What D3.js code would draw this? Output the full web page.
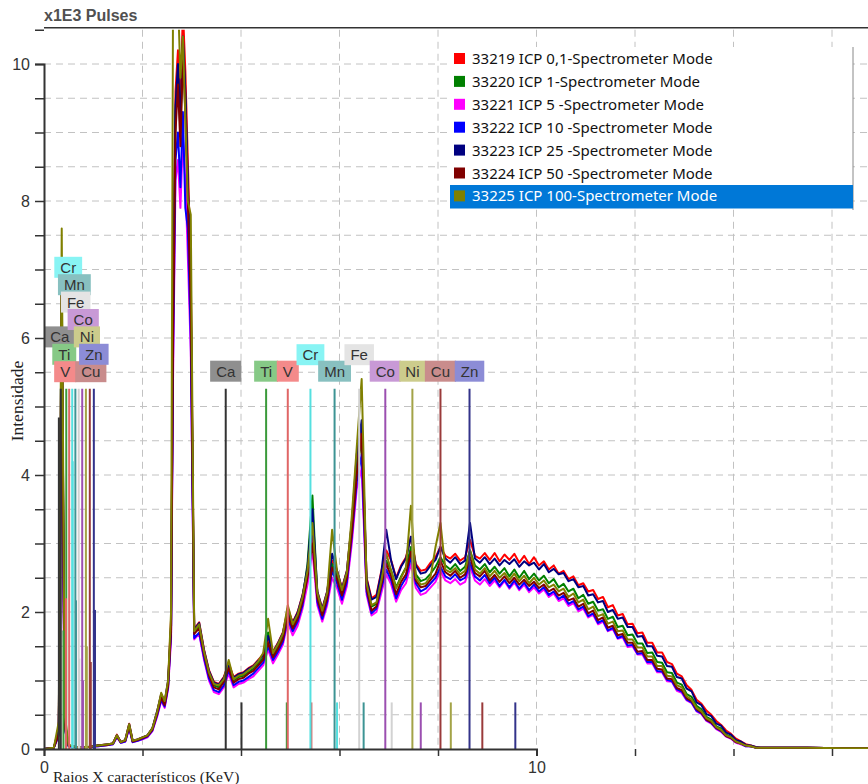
<!DOCTYPE html>
<html>
<head>
<meta charset="utf-8">
<title>Espectro XRF - ICP</title>
<script src="https://cdnjs.cloudflare.com/ajax/libs/d3/7.8.5/d3.min.js"></script>
<style>
    body { margin: 0; background: #fff; }
    svg { display: block; font-family: "Liberation Sans", Arial, sans-serif; }
    .grid line { stroke: #c2c2c2; stroke-width: 1; stroke-dasharray: 7,5; }
    .axis path, .axis line { stroke: #333; }
    .axis text { fill: #333; font-size: 16px; }
    .legend text { font-family: "Noto Sans", "Open Sans", sans-serif; font-size: 15px; fill: #111; }
    .rotulo text { font-size: 15px; fill: #333; }
</style>
</head>
<body>
<div id="chart"></div>
<script>
// energy axis (keV), shared by all spectra
const energia = [
    0, 0.2, 0.3, 0.36, 0.42, 0.5, 0.7, 0.9, 1.1, 1.3, 1.4, 1.48, 1.56, 1.65, 1.73, 1.8, 1.9, 2.0, 2.1, 2.2, 2.3, 2.38, 2.45, 2.52,
    2.58, 2.62, 2.67, 2.72, 2.77, 2.82, 2.87, 2.92, 2.98,
    3.05, 3.15, 3.25, 3.35, 3.45, 3.55, 3.65, 3.75, 3.85, 3.95, 4.05, 4.15, 4.25, 4.35, 4.45, 4.55, 4.65, 4.75, 4.85, 4.95,
    5.05, 5.15, 5.25, 5.35, 5.45, 5.55, 5.65, 5.75, 5.85, 5.95, 6.05, 6.15, 6.25, 6.35, 6.45, 6.55, 6.65, 6.75, 6.85, 6.95,
    7.05, 7.15, 7.25, 7.35, 7.45, 7.55, 7.65, 7.75, 7.85, 7.95, 8.05, 8.15, 8.25, 8.35, 8.45, 8.55, 8.65, 8.75, 8.85, 8.95,
    9.05, 9.15, 9.25, 9.35, 9.45, 9.55, 9.65, 9.75, 9.85, 9.95, 10.05, 10.15, 10.25, 10.35, 10.45, 10.55, 10.65, 10.75, 10.85, 10.95,
    11.05, 11.15, 11.25, 11.35, 11.45, 11.55, 11.65, 11.75, 11.85, 11.95, 12.05, 12.15, 12.25, 12.35, 12.45, 12.55, 12.65, 12.75, 12.85, 12.95,
    13.05, 13.15, 13.25, 13.35, 13.45, 13.55, 13.65, 13.75, 13.85, 13.95, 14.05, 14.15, 14.25, 14.35, 14.45, 14.55,
    14.8, 15.5, 16.2, 16.8
];

// intensities (x1E3 pulses)
const s33219 = [
    0, 0.02, 0.3, 6.8, 0.4, 0.05, 0.02, 0.03, 0.05, 0.07, 0.08, 0.21, 0.1, 0.13, 0.37, 0.12, 0.14, 0.17, 0.2, 0.3, 0.55, 0.8, 0.68, 0.98,
    1.9, 6.5, 9.6, 10.2, 9.3, 10.8, 9.9, 8.6, 7.0,
    1.75, 1.85, 1.45, 1.15, 0.98, 0.95, 1.05, 1.25, 1.05, 1.1, 1.12, 1.18, 1.22, 1.3, 1.38, 1.62, 1.42, 1.55, 1.7, 2.05,
    1.85, 2.0, 2.25, 2.6, 3.1, 2.3, 2.05, 2.3, 2.75, 2.6, 2.35, 2.6, 3.3, 4.2, 4.7, 2.5, 2.2, 2.25, 2.6, 2.9,
    2.75, 2.5, 2.68, 2.8, 3.1, 2.7, 2.6, 2.62, 2.72, 2.8, 2.95, 2.82, 2.78, 2.85, 2.75, 2.8, 3.05, 2.82, 2.78, 2.86,
    2.76, 2.86, 2.74, 2.84, 2.76, 2.85, 2.72, 2.82, 2.7, 2.8, 2.68, 2.74, 2.62, 2.68, 2.56, 2.6, 2.48, 2.52, 2.39, 2.42,
    2.3, 2.32, 2.19, 2.22, 2.07, 2.1, 1.95, 1.97, 1.82, 1.83, 1.69, 1.7, 1.55, 1.55, 1.41, 1.41, 1.27, 1.24, 1.1, 1.06,
    0.93, 0.86, 0.72, 0.66, 0.56, 0.5, 0.41, 0.35, 0.27, 0.22, 0.15, 0.11, 0.07, 0.05, 0.03, 0.02,
    0.02, 0.02, 0.01, 0.01
];
const s33220 = [
    0, 0.02, 0.25, 6.4, 0.35, 0.05, 0.02, 0.03, 0.05, 0.06, 0.08, 0.19, 0.1, 0.12, 0.34, 0.11, 0.13, 0.16, 0.19, 0.29, 0.52, 0.76, 0.65, 0.94,
    1.8, 6.2, 9.3, 9.9, 9.0, 10.3, 9.5, 8.2, 6.6,
    1.7, 1.8, 1.4, 1.1, 0.93, 0.9, 1.0, 1.2, 1.0, 1.05, 1.07, 1.12, 1.17, 1.25, 1.33, 1.7, 1.36, 1.5, 1.64, 1.98,
    1.8, 1.94, 2.2, 2.7, 3.7, 2.25, 1.98, 2.24, 2.7, 2.52, 2.28, 2.55, 3.2, 4.1, 4.5, 2.4, 2.08, 2.12, 2.45, 2.75,
    2.6, 2.36, 2.52, 2.65, 2.95, 2.55, 2.45, 2.48, 2.56, 2.66, 2.8, 2.68, 2.62, 2.7, 2.6, 2.66, 2.9, 2.68, 2.62, 2.7,
    2.58, 2.66, 2.56, 2.64, 2.52, 2.62, 2.5, 2.6, 2.48, 2.56, 2.46, 2.53, 2.42, 2.48, 2.36, 2.41, 2.3, 2.34, 2.2, 2.25,
    2.12, 2.15, 2.02, 2.04, 1.9, 1.93, 1.78, 1.8, 1.66, 1.67, 1.54, 1.54, 1.4, 1.41, 1.27, 1.26, 1.12, 1.11, 0.97, 0.94,
    0.8, 0.76, 0.63, 0.58, 0.47, 0.43, 0.33, 0.3, 0.21, 0.18, 0.12, 0.09, 0.05, 0.04, 0.02, 0.02,
    0.02, 0.02, 0.01, 0.01
];
const s33221 = [
    0, 0.02, 0.2, 5.4, 0.3, 0.04, 0.02, 0.03, 0.04, 0.06, 0.07, 0.17, 0.09, 0.11, 0.3, 0.1, 0.12, 0.14, 0.17, 0.26, 0.48, 0.7, 0.6, 0.88,
    1.6, 5.4, 8.3, 8.6, 7.9, 8.9, 8.3, 7.2, 5.8,
    1.6, 1.68, 1.3, 1.0, 0.83, 0.8, 0.9, 1.1, 0.9, 0.95, 0.97, 1.02, 1.06, 1.14, 1.22, 1.45, 1.25, 1.38, 1.52, 1.85,
    1.66, 1.8, 2.05, 2.4, 2.9, 2.1, 1.86, 2.1, 2.5, 2.35, 2.12, 2.38, 3.0, 3.8, 4.1, 2.25, 1.95, 2.0, 2.28, 2.55,
    2.4, 2.15, 2.32, 2.42, 2.7, 2.35, 2.25, 2.28, 2.36, 2.44, 2.6, 2.46, 2.42, 2.48, 2.4, 2.44, 2.66, 2.46, 2.4, 2.48,
    2.38, 2.46, 2.36, 2.45, 2.34, 2.43, 2.32, 2.4, 2.29, 2.36, 2.27, 2.33, 2.22, 2.27, 2.16, 2.2, 2.09, 2.13, 2.01, 2.05,
    1.92, 1.96, 1.82, 1.86, 1.72, 1.75, 1.61, 1.63, 1.49, 1.5, 1.38, 1.38, 1.25, 1.25, 1.12, 1.12, 0.99, 0.98, 0.85, 0.82,
    0.71, 0.67, 0.55, 0.51, 0.41, 0.37, 0.29, 0.25, 0.18, 0.15, 0.09, 0.07, 0.04, 0.04, 0.02, 0.02,
    0.02, 0.02, 0.01, 0.01
];
const s33222 = [
    0, 0.02, 0.2, 5.7, 0.3, 0.04, 0.02, 0.03, 0.04, 0.06, 0.07, 0.18, 0.09, 0.11, 0.31, 0.1, 0.12, 0.15, 0.18, 0.27, 0.5, 0.72, 0.62, 0.9,
    1.7, 5.7, 8.6, 9.0, 8.2, 9.3, 7.9, 7.6, 6.0,
    1.62, 1.7, 1.33, 1.03, 0.86, 0.83, 0.93, 1.15, 0.93, 0.98, 1.0, 1.05, 1.1, 1.18, 1.26, 1.5, 1.3, 1.42, 1.56, 1.9,
    1.72, 1.86, 2.1, 2.55, 3.3, 2.15, 1.9, 2.15, 2.6, 2.42, 2.18, 2.44, 3.1, 3.9, 4.3, 2.3, 1.98, 2.05, 2.35, 2.62,
    2.46, 2.2, 2.38, 2.5, 2.8, 2.42, 2.3, 2.34, 2.42, 2.5, 2.66, 2.52, 2.48, 2.55, 2.46, 2.5, 2.72, 2.52, 2.46, 2.54,
    2.42, 2.5, 2.38, 2.47, 2.36, 2.46, 2.34, 2.43, 2.32, 2.4, 2.3, 2.36, 2.25, 2.3, 2.19, 2.24, 2.12, 2.16, 2.04, 2.08,
    1.94, 1.98, 1.84, 1.88, 1.73, 1.77, 1.62, 1.65, 1.51, 1.52, 1.39, 1.4, 1.27, 1.27, 1.14, 1.13, 1.01, 0.99, 0.87, 0.84,
    0.72, 0.68, 0.56, 0.52, 0.42, 0.38, 0.3, 0.26, 0.19, 0.16, 0.1, 0.08, 0.04, 0.04, 0.02, 0.02,
    0.02, 0.02, 0.01, 0.01
];
const s33223 = [
    0, 0.02, 0.3, 6.9, 0.4, 0.05, 0.02, 0.03, 0.05, 0.07, 0.08, 0.2, 0.1, 0.13, 0.36, 0.12, 0.14, 0.17, 0.2, 0.3, 0.56, 0.8, 0.68, 1.0,
    1.8, 6.3, 9.4, 10.0, 9.1, 10.4, 9.6, 8.3, 6.8,
    1.74, 1.84, 1.44, 1.14, 0.97, 0.94, 1.04, 1.22, 1.04, 1.09, 1.11, 1.17, 1.21, 1.29, 1.37, 1.65, 1.41, 1.54, 1.69, 2.02,
    1.84, 1.99, 2.24, 2.65, 3.5, 2.3, 2.04, 2.3, 2.85, 2.6, 2.34, 2.6, 3.3, 4.3, 4.8, 2.48, 2.18, 2.22, 2.58, 3.2,
    2.74, 2.48, 2.66, 2.78, 3.1, 2.68, 2.56, 2.58, 2.68, 2.76, 2.95, 2.78, 2.72, 2.8, 2.7, 2.75, 3.3, 2.78, 2.72, 2.8,
    2.7, 2.78, 2.68, 2.76, 2.7, 2.77, 2.66, 2.74, 2.68, 2.72, 2.62, 2.7, 2.58, 2.63, 2.55, 2.57, 2.45, 2.48, 2.36, 2.38,
    2.24, 2.26, 2.14, 2.16, 2.0, 2.03, 1.9, 1.92, 1.78, 1.78, 1.64, 1.65, 1.5, 1.5, 1.36, 1.35, 1.21, 1.2, 1.05, 1.03,
    0.88, 0.84, 0.68, 0.64, 0.51, 0.48, 0.37, 0.34, 0.24, 0.21, 0.13, 0.11, 0.06, 0.05, 0.03, 0.02,
    0.02, 0.02, 0.01, 0.01
];
const s33224 = [
    0, 0.02, 0.22, 6.3, 0.32, 0.05, 0.02, 0.03, 0.05, 0.06, 0.08, 0.19, 0.1, 0.12, 0.33, 0.11, 0.13, 0.16, 0.19, 0.28, 0.52, 0.75, 0.64, 0.93,
    1.75, 6.0, 9.0, 9.7, 8.8, 10.1, 9.3, 8.0, 6.5,
    1.68, 1.76, 1.38, 1.08, 0.9, 0.87, 0.98, 1.18, 0.97, 1.02, 1.04, 1.1, 1.14, 1.22, 1.3, 1.55, 1.34, 1.46, 1.6, 1.95,
    1.76, 1.9, 2.15, 2.5, 3.0, 2.2, 1.95, 2.2, 2.65, 2.48, 2.24, 2.5, 3.15, 4.0, 4.6, 2.35, 2.02, 2.08, 2.4, 2.7,
    2.52, 2.26, 2.44, 2.55, 2.88, 2.46, 2.36, 2.38, 2.47, 2.56, 2.75, 2.58, 2.53, 2.6, 2.5, 2.55, 2.8, 2.57, 2.52, 2.6,
    2.46, 2.54, 2.44, 2.52, 2.42, 2.5, 2.4, 2.47, 2.38, 2.44, 2.35, 2.4, 2.3, 2.34, 2.24, 2.28, 2.17, 2.2, 2.08, 2.12,
    1.98, 2.02, 1.88, 1.92, 1.77, 1.8, 1.66, 1.68, 1.55, 1.55, 1.42, 1.43, 1.3, 1.3, 1.17, 1.16, 1.03, 1.02, 0.89, 0.86,
    0.74, 0.7, 0.58, 0.53, 0.43, 0.39, 0.31, 0.27, 0.19, 0.16, 0.1, 0.08, 0.05, 0.04, 0.02, 0.02,
    0.02, 0.02, 0.01, 0.01
];
const s33225 = [
    0, 0.02, 0.4, 7.6, 0.5, 0.06, 0.02, 0.03, 0.05, 0.07, 0.08, 0.2, 0.1, 0.13, 0.36, 0.12, 0.14, 0.17, 0.2, 0.3, 0.55, 0.82, 0.7, 1.0,
    2.0, 11.0, 11.2, 11.0, 9.8, 10.4, 9.2, 8.0, 7.8,
    1.72, 1.82, 1.42, 1.12, 0.95, 0.93, 1.02, 1.3, 1.02, 1.07, 1.09, 1.15, 1.2, 1.28, 1.4, 1.9, 1.4, 1.53, 1.68, 2.1,
    1.82, 1.96, 2.22, 2.6, 3.3, 2.28, 2.02, 2.28, 3.2, 2.6, 2.32, 2.58, 3.4, 4.4, 5.4, 2.42, 2.1, 2.14, 2.46, 2.85,
    2.6, 2.34, 2.5, 2.65, 3.55, 2.5, 2.4, 2.42, 2.52, 2.95, 3.3, 2.62, 2.58, 2.64, 2.55, 2.6, 2.9, 2.62, 2.56, 2.64,
    2.52, 2.6, 2.5, 2.57, 2.47, 2.56, 2.45, 2.53, 2.42, 2.5, 2.4, 2.46, 2.36, 2.4, 2.3, 2.34, 2.22, 2.27, 2.14, 2.18,
    2.04, 2.08, 1.94, 1.97, 1.83, 1.86, 1.72, 1.73, 1.6, 1.6, 1.48, 1.48, 1.35, 1.35, 1.21, 1.21, 1.07, 1.06, 0.93, 0.9,
    0.77, 0.72, 0.6, 0.55, 0.45, 0.41, 0.32, 0.28, 0.2, 0.17, 0.11, 0.08, 0.05, 0.04, 0.02, 0.02,
    0.02, 0.02, 0.01, 0.01
];

const nomesSeries = [
    "33219 ICP 0,1-Spectrometer Mode",
    "33220 ICP 1-Spectrometer Mode",
    "33221 ICP 5 -Spectrometer Mode",
    "33222 ICP 10 -Spectrometer Mode",
    "33223 ICP 25 -Spectrometer Mode",
    "33224 ICP 50 -Spectrometer Mode",
    "33225 ICP 100-Spectrometer Mode"
];
const espectros = [s33219, s33220, s33221, s33222, s33223, s33224, s33225];
const coresSeries = ["#ff0000", "#008000", "#ff00ff", "#0000ff", "#000080", "#800000", "#808000"];

// KLM element markers
const elementos = ["Ca", "Ti", "V", "Cr", "Mn", "Fe", "Co", "Ni", "Cu", "Zn"];
const linhaKa = [3.69, 4.51, 4.95, 5.41, 5.90, 6.40, 6.93, 7.48, 8.05, 8.64];
const linhaKb = [4.01, 4.93, 5.43, 5.95, 6.49, 7.06, 7.65, 8.26, 8.90, 9.57];
const linhaLa = [0.341, 0.452, 0.511, 0.573, 0.637, 0.705, 0.776, 0.851, 0.930, 1.012];
const linhaLb = [0.302, 0.395, 0.446, 0.583, 0.649, 0.718, 0.791, 0.869, 0.950, 1.035];
const alturaLb = [4.84, 1.73, 2.2, 4.2, 2.17, 1.32, 1.0, 1.5, 1.27, 2.03];
const alturaKa = 5.26, alturaKb = 0.68;

const yTicks = [0, 2, 4, 6, 8, 10];
const xTicks = [0, 10];

// styles of the markers
const corLinha = {Ca: "#333333", Ti: "#3a9a3a", V: "#e06666", Cr: "#55e0e0", Mn: "#3d9494",
                  Fe: "#d2d2d2", Co: "#9b4fb0", Ni: "#a3a347", Cu: "#9a3a3a", Zn: "#33338a"};
const corRotulo = {Ca: "#8f8f8f", Ti: "#86c986", V: "#f48a8a", Cr: "#88f4f4", Mn: "#88c0c0",
                   Fe: "#e4e4e4", Co: "#c899d6", Ni: "#cccc8c", Cu: "#c98c8c", Zn: "#8c8cd6"};
// label stacking (row, x shift) for L group and K group
const posL = {Ca: [2, -1], Ti: [1, -2], V: [0, -4], Cr: [6, -4], Mn: [5, -1], Fe: [4, -3], Co: [3, 1], Ni: [2, 1], Cu: [0, 1], Zn: [1, 0]};
const posK = {Ca: 0, Ti: 0, V: 0, Cr: 1, Mn: 0, Fe: 1, Co: 0, Ni: 0, Cu: 0, Zn: 0};

espectros.forEach((s, i) => { if (s.length !== energia.length) throw new Error("serie " + i + " tem " + s.length); });

const width = 868, height = 784;
const x0 = 44, yBase = 749;
const x = d3.scaleLinear().domain([0, 10]).range([x0, 536.5]);
const y = d3.scaleLinear().domain([0, 10]).range([yBase, 64]);
const xMax = x.invert(width), yMax = 10.5;
const yTop = y(yMax);

const svg = d3.select("#chart").append("svg")
    .attr("width", width).attr("height", height);

svg.append("defs").append("clipPath").attr("id", "area")
    .append("rect").attr("x", x0).attr("y", yTop).attr("width", width - x0).attr("height", yBase - yTop);

// grid
const grid = svg.append("g").attr("class", "grid");
grid.selectAll(".h").data(d3.range(0.5, 10.01, 0.5)).enter().append("line")
    .attr("x1", x0).attr("x2", width).attr("y1", d => y(d)).attr("y2", d => y(d));
grid.selectAll(".v").data(d3.range(2, xMax, 2)).enter().append("line")
    .attr("y1", yTop).attr("y2", yBase).attr("x1", d => x(d)).attr("x2", d => x(d));

// spectra
const linha = d3.line().x((d, i) => x(energia[i])).y(d => y(d));
svg.append("g").attr("clip-path", "url(#area)")
    .selectAll("path").data(espectros).enter().append("path")
    .attr("d", linha)
    .attr("fill", "none")
    .attr("stroke", (d, i) => coresSeries[i])
    .attr("stroke-width", 2)
    .attr("stroke-linejoin", "round");

// marker lines
const marc = svg.append("g").attr("clip-path", "url(#area)");
const linhas = [];
elementos.forEach((el, i) => {
    linhas.push({el, e: linhaKb[i], h: alturaKb});
    linhas.push({el, e: linhaLb[i], h: alturaLb[i]});
    linhas.push({el, e: linhaKa[i], h: alturaKa});
    linhas.push({el, e: linhaLa[i], h: alturaKa});
});
marc.selectAll("line").data(linhas).enter().append("line")
    .attr("x1", d => x(d.e)).attr("x2", d => x(d.e))
    .attr("y1", yBase).attr("y2", d => y(d.h))
    .attr("stroke", d => corLinha[d.el])
    .attr("stroke-width", 2);

// element labels
const rot = svg.append("g").attr("class", "rotulo");
function rotulo(el, cx, cy) {
    const g = rot.append("g");
    const t = g.append("text").attr("x", cx).attr("y", cy + 5.5)
        .attr("text-anchor", "middle").text(el);
    const w = t.node().getComputedTextLength() + 12;
    g.insert("rect", "text").attr("x", cx - w / 2).attr("y", cy - 10.5)
        .attr("width", w).attr("height", 21).attr("fill", corRotulo[el]);
}
const topoLinha = y(alturaKa);
elementos.forEach((el, i) => {
    rotulo(el, x(linhaKa[i]), topoLinha - 17.5 - 16.5 * posK[el]);
});
elementos.forEach((el, i) => {
    rotulo(el, x(linhaLa[i]) + posL[el][1], topoLinha - 17 - 17.4 * posL[el][0]);
});

// axes
const yAxis = d3.axisLeft(y).tickValues(d3.range(0, 10.51, 0.5)).tickSize(9).tickPadding(5)
    .tickFormat(d => yTicks.includes(d) ? d : "");
svg.append("g").attr("class", "axis").attr("transform", `translate(${x0},0)`).call(yAxis)
    .call(g => g.select(".domain").attr("stroke-width", 2))
    .call(g => g.selectAll(".tick line").attr("stroke-width", 1.5));

const xAxis = d3.axisBottom(x).tickValues(d3.range(0, xMax, 2)).tickSize(7).tickPadding(6)
    .tickFormat(d => xTicks.includes(d) ? d : "");
svg.append("g").attr("class", "axis").attr("transform", `translate(0,${yBase})`).call(xAxis)
    .call(g => g.select(".domain").attr("stroke-width", 2))
    .call(g => g.selectAll(".tick line").attr("stroke-width", 1.5));

svg.append("line").attr("x1", x0).attr("x2", width).attr("y1", yTop - 2).attr("y2", yTop - 2)
    .attr("stroke", "#333").attr("stroke-width", 1.5);

// titles
svg.append("text").attr("x", 44).attr("y", 21).attr("fill", "#505050")
    .style("font-size", "16px").style("font-weight", "bold").text("x1E3 Pulses");
svg.append("text").attr("x", 53).attr("y", 782)
    .style("font-family", "'Liberation Serif', 'Times New Roman', serif").style("font-size", "15.5px")
    .attr("fill", "#222").text("Raios X característicos (KeV)");
svg.append("text").attr("transform", "translate(23,401) rotate(-90)").attr("text-anchor", "middle")
    .style("font-family", "'Liberation Serif', 'Times New Roman', serif").style("font-size", "17.5px")
    .attr("fill", "#222").text("Intensidade");

// legend
const leg = svg.append("g").attr("class", "legend");
leg.append("rect").attr("x", 450).attr("y", 47).attr("width", 403).attr("height", 162).attr("fill", "#fff");
leg.append("line").attr("x1", 853).attr("x2", 853).attr("y1", 47).attr("y2", 210).attr("stroke", "#888");
leg.append("rect").attr("x", 450).attr("y", 185).attr("width", 403).attr("height", 23.5).attr("fill", "#0078d7");
nomesSeries.forEach((nome, i) => {
    const cy = 58.5 + i * 22.9;
    leg.append("rect").attr("x", 454).attr("y", cy - 5.5).attr("width", 11).attr("height", 11)
        .attr("fill", coresSeries[i]);
    leg.append("text").attr("x", 472).attr("y", cy + 5.5)
        .style("fill", i === nomesSeries.length - 1 ? "#fff" : "#111").text(nome);
});
</script>
</body>
</html>
